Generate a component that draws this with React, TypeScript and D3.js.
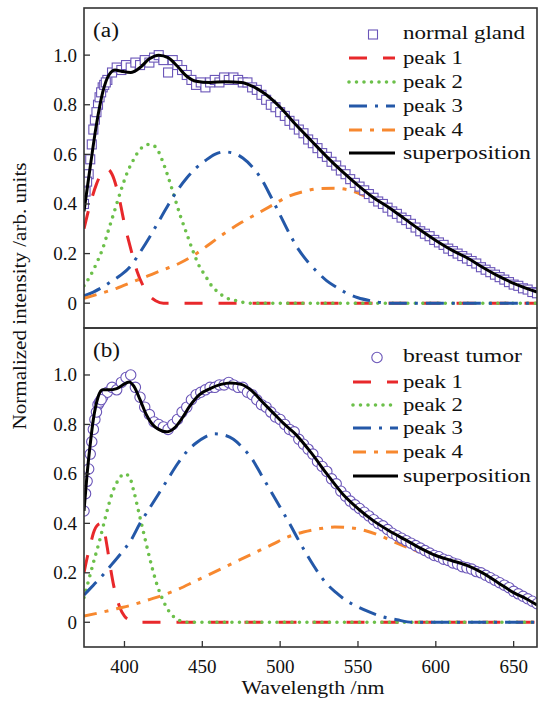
import * as d3 from 'd3';

type Pt = [number, number];

// wavelengths (nm) of the measured spectra, shared by both panels
const sampleWavelengths = [
  374, 377, 380, 383, 386, 389, 392, 395, 398, 401,
  404, 407, 410, 413, 416, 419, 422, 425, 428, 431,
  434, 437, 440, 443, 446, 449, 452, 455, 458, 461,
  464, 467, 470, 473, 476, 479, 482, 485, 488, 491,
  494, 497, 500, 503, 506, 509, 512, 515, 518, 521,
  524, 527, 530, 533, 536, 539, 542, 545, 548, 551,
  554, 557, 560, 563, 566, 569, 572, 575, 578, 581,
  584, 587, 590, 593, 596, 599, 602, 605, 608, 611,
  614, 617, 620, 623, 626, 629, 632, 635, 638, 641,
  644, 647, 650, 653, 656, 659, 662, 665,
];

const glandData = [
  0.40, 0.52, 0.70, 0.80, 0.87, 0.90, 0.93, 0.95, 0.94, 0.96,
  0.95, 0.97, 0.96, 0.98, 0.97, 0.99, 1.00, 0.98, 0.93, 0.98,
  0.96, 0.94, 0.92, 0.90, 0.88, 0.89, 0.87, 0.89, 0.90, 0.89,
  0.91, 0.90, 0.91, 0.90, 0.89, 0.89, 0.87, 0.86, 0.84, 0.82,
  0.80, 0.79, 0.77, 0.755, 0.735, 0.72, 0.70, 0.685, 0.66, 0.645,
  0.625, 0.605, 0.59, 0.57, 0.555, 0.535, 0.52, 0.50, 0.485, 0.47,
  0.455, 0.44, 0.425, 0.41, 0.40, 0.385, 0.37, 0.36, 0.345, 0.335,
  0.32, 0.305, 0.29, 0.28, 0.27, 0.255, 0.245, 0.235, 0.22, 0.21,
  0.20, 0.19, 0.18, 0.17, 0.16, 0.145, 0.135, 0.125, 0.115, 0.105,
  0.095, 0.085, 0.075, 0.07, 0.06, 0.055, 0.045, 0.04,
];

const tumorData = [
  0.45, 0.62, 0.78, 0.88, 0.91, 0.93, 0.95, 0.94, 0.97, 0.99,
  1.00, 0.95, 0.91, 0.87, 0.84, 0.81, 0.80, 0.79, 0.78, 0.80,
  0.82, 0.85, 0.87, 0.90, 0.92, 0.93, 0.94, 0.95, 0.95, 0.96,
  0.96, 0.97, 0.96, 0.95, 0.95, 0.93, 0.92, 0.90, 0.88, 0.87,
  0.85, 0.83, 0.82, 0.80, 0.78, 0.77, 0.74, 0.72, 0.70, 0.68,
  0.65, 0.63, 0.61, 0.58, 0.56, 0.53, 0.51, 0.49, 0.475, 0.46,
  0.445, 0.43, 0.415, 0.40, 0.39, 0.375, 0.36, 0.35, 0.34, 0.33,
  0.32, 0.31, 0.30, 0.29, 0.28, 0.27, 0.265, 0.255, 0.25, 0.24,
  0.235, 0.225, 0.22, 0.215, 0.205, 0.20, 0.19, 0.18, 0.17, 0.16,
  0.15, 0.14, 0.125, 0.115, 0.105, 0.095, 0.085, 0.075,
];

// extra samples on the steep rising edge
const glandRise: Pt[] = [
  [375, 0.45], [376, 0.49], [378, 0.58], [379, 0.64], [381, 0.74],
  [382, 0.77], [384, 0.83], [385, 0.85], [387, 0.88], [388, 0.89],
];
const tumorRise: Pt[] = [
  [375, 0.52], [376, 0.57], [378, 0.68], [379, 0.73], [381, 0.82],
  [382, 0.85], [384, 0.89], [385, 0.9],
];

// fitted components, panel (a)
const peak1A: Pt[] = [
  [374, 0.30], [378, 0.40], [382, 0.48], [386, 0.53], [389, 0.54], [392, 0.52],
  [396, 0.44], [400, 0.32], [404, 0.22], [408, 0.13], [412, 0.07], [416, 0.03],
  [420, 0.01], [425, 0], [500, 0], [600, 0], [665, 0],
];
const peak2A: Pt[] = [
  [374, 0.07], [378, 0.11], [382, 0.16], [386, 0.22], [390, 0.30], [394, 0.38],
  [398, 0.46], [402, 0.53], [406, 0.58], [410, 0.62], [416, 0.64], [420, 0.63],
  [424, 0.58], [428, 0.51], [432, 0.43], [436, 0.35], [440, 0.28], [444, 0.21],
  [448, 0.15], [452, 0.11], [456, 0.07], [460, 0.045], [466, 0.02], [472, 0.01],
  [480, 0], [560, 0], [665, 0],
];
const peak3A: Pt[] = [
  [374, 0.03], [380, 0.045], [386, 0.065], [392, 0.09], [398, 0.115], [404, 0.15],
  [410, 0.205], [416, 0.265], [422, 0.33], [428, 0.395], [434, 0.455], [440, 0.505],
  [446, 0.545], [452, 0.575], [458, 0.6], [464, 0.61], [470, 0.605], [476, 0.585],
  [482, 0.55], [488, 0.5], [494, 0.43], [500, 0.355], [506, 0.28], [512, 0.215],
  [518, 0.165], [524, 0.125], [530, 0.09], [536, 0.065], [542, 0.043], [550, 0.022],
  [558, 0.01], [570, 0], [620, 0], [665, 0],
];
const peak4A: Pt[] = [
  [374, 0.02], [385, 0.04], [395, 0.06], [405, 0.085], [415, 0.11], [425, 0.135],
  [435, 0.16], [445, 0.195], [455, 0.24], [465, 0.285], [475, 0.325], [485, 0.36],
  [495, 0.395], [505, 0.43], [515, 0.45], [525, 0.462], [535, 0.463], [545, 0.455],
  [555, 0.43], [565, 0.4], [575, 0.36], [585, 0.32], [595, 0.28], [605, 0.24],
  [615, 0.2], [625, 0.165], [635, 0.13], [645, 0.1], [655, 0.07], [665, 0.045],
];
const superA: Pt[] = [
  [374, 0.37], [378, 0.55], [382, 0.72], [386, 0.85], [390, 0.92], [394, 0.94],
  [398, 0.935], [404, 0.93], [410, 0.95], [416, 0.985], [422, 1.0], [428, 0.99],
  [434, 0.955], [440, 0.915], [446, 0.895], [455, 0.89], [465, 0.893], [475, 0.89],
  [482, 0.875], [490, 0.845], [500, 0.79], [510, 0.72], [520, 0.655], [530, 0.59],
  [540, 0.53], [550, 0.475], [560, 0.425], [570, 0.385], [580, 0.34], [590, 0.295],
  [600, 0.253], [610, 0.215], [620, 0.183], [630, 0.145], [640, 0.11], [650, 0.08],
  [665, 0.045],
];

// fitted components, panel (b)
const peak1B: Pt[] = [
  [374, 0.2], [376, 0.26], [378, 0.31], [380, 0.36], [383, 0.395], [385, 0.4],
  [387, 0.37], [389, 0.3], [391, 0.22], [393, 0.15], [395, 0.1], [397, 0.06],
  [400, 0.025], [404, 0.008], [410, 0], [500, 0], [600, 0], [665, 0],
];
const peak2B: Pt[] = [
  [374, 0.1], [377, 0.17], [380, 0.24], [384, 0.33], [388, 0.43], [392, 0.52],
  [396, 0.575], [400, 0.6], [403, 0.59], [406, 0.53], [409, 0.45], [412, 0.37],
  [415, 0.29], [418, 0.215], [421, 0.15], [424, 0.1], [428, 0.05], [432, 0.02],
  [436, 0.006], [440, 0], [560, 0], [665, 0],
];
const peak3B: Pt[] = [
  [374, 0.11], [380, 0.15], [386, 0.19], [392, 0.235], [398, 0.28], [404, 0.33],
  [410, 0.4], [416, 0.46], [422, 0.52], [428, 0.58], [434, 0.64], [440, 0.69],
  [446, 0.725], [452, 0.75], [458, 0.762], [464, 0.757], [470, 0.74], [476, 0.705],
  [482, 0.66], [488, 0.595], [494, 0.53], [500, 0.465], [506, 0.4], [512, 0.33],
  [518, 0.265], [524, 0.205], [530, 0.155], [536, 0.12], [542, 0.09], [550, 0.062],
  [558, 0.04], [566, 0.022], [575, 0.01], [585, 0], [630, 0], [665, 0],
];
const peak4B: Pt[] = [
  [374, 0.025], [385, 0.04], [395, 0.055], [405, 0.07], [415, 0.09], [425, 0.11],
  [435, 0.135], [445, 0.165], [455, 0.195], [465, 0.225], [475, 0.255], [485, 0.285],
  [495, 0.315], [505, 0.345], [515, 0.365], [525, 0.378], [535, 0.385], [545, 0.382],
  [555, 0.37], [565, 0.348], [575, 0.32], [585, 0.295], [595, 0.27], [605, 0.25],
  [615, 0.235], [625, 0.215], [635, 0.18], [645, 0.14], [655, 0.1], [665, 0.068],
];
const superB: Pt[] = [
  [374, 0.45], [376, 0.6], [378, 0.72], [380, 0.82], [383, 0.91], [386, 0.94],
  [390, 0.94], [395, 0.945], [399, 0.96], [403, 0.972], [406, 0.955], [410, 0.9],
  [414, 0.84], [418, 0.8], [422, 0.78], [427, 0.77], [432, 0.785], [437, 0.825],
  [442, 0.875], [448, 0.92], [455, 0.945], [462, 0.962], [468, 0.968], [475, 0.962],
  [482, 0.935], [488, 0.895], [495, 0.85], [502, 0.805], [510, 0.76], [520, 0.685],
  [530, 0.6], [540, 0.52], [550, 0.46], [560, 0.41], [570, 0.37], [580, 0.335],
  [590, 0.3], [600, 0.27], [610, 0.25], [620, 0.23], [630, 0.2], [640, 0.16],
  [650, 0.12], [658, 0.095], [665, 0.07],
];

const yTicks = [0, 0.2, 0.4, 0.6, 0.8, 1.0];
const yTickLabels = ['0', '0.2', '0.4', '0.6', '0.8', '1.0'];
const xTicks = [400, 450, 500, 550, 600, 650];
const peakLabels = ['peak 1', 'peak 2', 'peak 3', 'peak 4'];

const FONT = '"Liberation Serif", "Times New Roman", serif';
const MARKER = '#6a55b8';
const FRAME = '#333';
const INK = '#111';

const peakStyles = [
  { color: '#e8282b', dash: '18 16', cap: 'butt', width: 3 },
  { color: '#6cc04a', dash: '0 7.5', cap: 'round', width: 3.6 },
  { color: '#2458a8', dash: '18 8 3 8', cap: 'butt', width: 3 },
  { color: '#f7882f', dash: '13 8 4 8', cap: 'butt', width: 3 },
];

const left = 84;
const right = 537;
const x = d3.scaleLinear().domain([374, 665]).range([left, right]);

// the original face is a wide Century-style serif; stretch Liberation Serif to its widths
const textWidths: Record<string, number> = {
  'normal gland': 122,
  'breast tumor': 119,
  'peak 1': 60,
  'peak 2': 60,
  'peak 3': 60,
  'peak 4': 60,
  superposition: 128,
  '(a)': 26,
  '(b)': 27,
};

type PanelProps = {
  id: string;
  top: number;
  bottom: number;
  tag: string;
  marker: 'square' | 'circle';
  markerLabel: string;
  data: number[];
  rise: Pt[];
  peaks: Pt[][];
  sup: Pt[];
  legendRows: number[];
  legendLine: [number, number];
  showX: boolean;
};

function Label({ x, y, s }: { x: number; y: number; s: string }) {
  return (
    <text x={x} y={y} dy="0.33em" textLength={textWidths[s]} lengthAdjust="spacingAndGlyphs">
      {s}
    </text>
  );
}

function Panel(p: PanelProps) {
  const y = d3.scaleLinear().domain([-0.1, 1.19]).range([p.bottom, p.top]);
  const line = d3
    .line<Pt>()
    .x((d) => x(d[0]))
    .y((d) => y(d[1]))
    .curve(d3.curveMonotoneX);

  const pts: Pt[] = sampleWavelengths.map((w, i) => [w, p.data[i]] as Pt).concat(p.rise);

  const drawMarker = (cx: number, cy: number, key: string | number) =>
    p.marker === 'square' ? (
      <rect key={key} x={cx - 4.5} y={cy - 4.5} width={9} height={9} fill="#fff" stroke={MARKER} strokeWidth={1.1} />
    ) : (
      <circle key={key} cx={cx} cy={cy} r={5.2} fill="#fff" stroke={MARKER} strokeWidth={1.1} />
    );

  const [l0, l1] = p.legendLine;
  const textX = 403;

  return (
    <g>
      <defs>
        <clipPath id={`clip-${p.id}`}>
          <rect x={left} y={p.top} width={right - left} height={p.bottom - p.top} />
        </clipPath>
      </defs>
      <g clipPath={`url(#clip-${p.id})`}>
        {p.peaks.map((pk, i) => (
          <path
            key={i}
            d={line(pk) ?? ''}
            fill="none"
            stroke={peakStyles[i].color}
            strokeWidth={peakStyles[i].width}
            strokeDasharray={peakStyles[i].dash}
            strokeLinecap={peakStyles[i].cap as any}
          />
        ))}
        {pts.map((d, i) => drawMarker(x(d[0]), y(d[1]), i))}
        <path d={line(p.sup) ?? ''} fill="none" stroke="#000" strokeWidth={3} />
      </g>

      {/* frame */}
      <rect x={left} y={p.top} width={right - left} height={p.bottom - p.top} fill="none" stroke={FRAME} strokeWidth={1.6} />

      {/* y axis */}
      {yTicks.map((t, i) => (
        <g key={t}>
          <line x1={left} x2={left + 6} y1={y(t)} y2={y(t)} stroke={FRAME} strokeWidth={1.3} />
          <text x={left - 7} y={y(t)} dy="0.34em" textAnchor="end" fontFamily={FONT} fontSize={19} fill={INK}>
            {yTickLabels[i]}
          </text>
        </g>
      ))}

      {p.showX &&
        xTicks.map((t) => (
          <g key={t}>
            <line x1={x(t)} x2={x(t)} y1={p.bottom} y2={p.bottom - 6} stroke={FRAME} strokeWidth={1.3} />
            <text x={x(t)} y={p.bottom + 26} textAnchor="middle" fontFamily={FONT} fontSize={19} fill={INK}>
              {t}
            </text>
          </g>
        ))}

      <g fontFamily={FONT} fontSize={20} fill={INK}>
        <Label x={93} y={p.top + 22} s={p.tag} />
      </g>

      {/* legend */}
      <g fontFamily={FONT} fontSize={19} fill={INK}>
        {drawMarker(p.marker === 'square' ? 373 : 377, p.legendRows[0] + 1.5, 'lg')}
        <Label x={textX} y={p.legendRows[0]} s={p.markerLabel} />
        {peakLabels.map((lab, i) => (
          <g key={lab}>
            <line
              x1={l0}
              x2={l1}
              y1={p.legendRows[i + 1]}
              y2={p.legendRows[i + 1]}
              stroke={peakStyles[i].color}
              strokeWidth={peakStyles[i].width}
              strokeDasharray={peakStyles[i].dash}
              strokeLinecap={peakStyles[i].cap as any}
            />
            <Label x={textX} y={p.legendRows[i + 1]} s={lab} />
          </g>
        ))}
        <line x1={l0} x2={l1} y1={p.legendRows[5]} y2={p.legendRows[5]} stroke="#000" strokeWidth={3} />
        <Label x={textX} y={p.legendRows[5]} s="superposition" />
      </g>
    </g>
  );
}

export default function App() {
  return (
    <div style={{ position: 'absolute', left: 0, top: 0 }}>
      <svg width={543} height={701} style={{ display: 'block', background: '#fff' }}>
        <Panel
          id="a"
          top={8}
          bottom={328}
          tag="(a)"
          marker="square"
          markerLabel="normal gland"
          data={glandData}
          rise={glandRise}
          peaks={[peak1A, peak2A, peak3A, peak4A]}
          sup={superA}
          legendRows={[33, 58, 82, 106, 130, 153]}
          legendLine={[349, 395]}
          showX={false}
        />
        <Panel
          id="b"
          top={328}
          bottom={647}
          tag="(b)"
          marker="circle"
          markerLabel="breast tumor"
          data={tumorData}
          rise={tumorRise}
          peaks={[peak1B, peak2B, peak3B, peak4B]}
          sup={superB}
          legendRows={[356, 382, 405, 428, 452, 476]}
          legendLine={[353, 398]}
          showX={true}
        />
        <text
          transform="translate(26,296) rotate(-90)"
          textAnchor="middle"
          fontFamily={FONT}
          fontSize={19}
          fill={INK}
          textLength={267}
          lengthAdjust="spacingAndGlyphs"
        >
          Normalized intensity /arb. units
        </text>
        <text
          x={313}
          y={694}
          textAnchor="middle"
          fontFamily={FONT}
          fontSize={19}
          fill={INK}
          textLength={143}
          lengthAdjust="spacingAndGlyphs"
        >
          Wavelength /nm
        </text>
      </svg>
    </div>
  );
}
